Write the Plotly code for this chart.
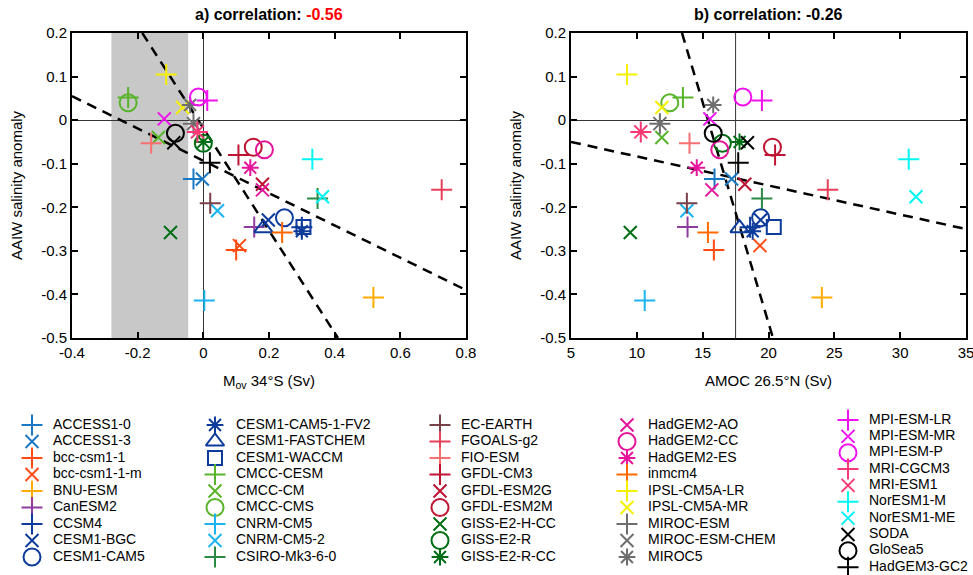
import plotly.graph_objects as go

# ---------------- data ----------------
models = ["ACCESS1-0", "ACCESS1-3", "bcc-csm1-1", "bcc-csm1-1-m", "BNU-ESM", "CanESM2", "CCSM4",
          "CESM1-BGC", "CESM1-CAM5", "CESM1-CAM5-1-FV2", "CESM1-FASTCHEM", "CESM1-WACCM",
          "CMCC-CESM", "CMCC-CM", "CMCC-CMS", "CNRM-CM5", "CNRM-CM5-2", "CSIRO-Mk3-6-0",
          "EC-EARTH", "FGOALS-g2", "FIO-ESM", "GFDL-CM3", "GFDL-ESM2G", "GFDL-ESM2M",
          "GISS-E2-H-CC", "GISS-E2-R", "GISS-E2-R-CC", "HadGEM2-AO", "HadGEM2-CC", "HadGEM2-ES",
          "inmcm4", "IPSL-CM5A-LR", "IPSL-CM5A-MR", "MIROC-ESM", "MIROC-ESM-CHEM", "MIROC5",
          "MPI-ESM-LR", "MPI-ESM-MR", "MPI-ESM-P", "MRI-CGCM3", "MRI-ESM1", "NorESM1-M",
          "NorESM1-ME", "SODA", "GloSea5", "HadGEM3-GC2"]

mov34s = [-0.030, -0.003, 0.100, 0.110, 0.518, 0.155, 0.300,
          0.198, 0.247, 0.300, 0.183, 0.305,
          -0.229, -0.137, -0.229, 0.003, 0.043, 0.348,
          0.021, 0.726, -0.159, 0.107, 0.180, 0.152,
          -0.100, 0.000, 0.000, 0.180, 0.186, 0.143,
          0.240, -0.113, -0.063, -0.030, -0.030, -0.040,
          0.012, -0.119, -0.015, -0.018, -0.018, 0.332,
          0.363, -0.090, -0.085, 0.020]

amoc265n = [15.9, 17.2, 15.85, 19.35, 24.05, 13.85, 18.6,
            19.4, 19.4, 18.8, 17.8, 20.4,
            13.5, 11.9, 12.5, 10.6, 13.8, 19.5,
            13.8, 24.5, 14.0, 20.5, 18.2, 20.3,
            9.5, 16.5, 17.8, 15.7, 16.3, 14.55,
            15.4, 9.25, 11.9, 11.75, 11.75, 15.8,
            19.5, 15.55, 18.05, 10.3, 10.3, 30.65,
            31.2, 18.4, 15.8, 17.7]

aaiw_sal = [-0.135, -0.135, -0.298, -0.288, -0.407, -0.245, -0.246,
            -0.229, -0.224, -0.255, -0.248, -0.245,
            0.052, -0.040, 0.040, -0.414, -0.208, -0.180,
            -0.191, -0.160, -0.053, -0.080, -0.147, -0.062,
            -0.258, -0.053, -0.050, -0.160, -0.068, -0.109,
            -0.258, 0.105, 0.029, -0.008, -0.008, 0.035,
            0.045, 0.003, 0.053, -0.027, -0.027, -0.090,
            -0.176, -0.052, -0.030, -0.098]

symbols = ["+", "x", "+", "x", "+", "+", "+",
           "x", "o", "*", "^", "s",
           "+", "x", "o", "+", "x", "+",
           "+", "+", "+", "+", "x", "o",
           "x", "o", "*", "x", "o", "*",
           "+", "+", "x", "+", "x", "*",
           "+", "x", "o", "+", "x", "+",
           "x", "x", "o", "+"]

colors = ["#1a78c2", "#1a78c2", "#ff4a10", "#ff4a10", "#ffab00", "#8e3c9e", "#0d3b9c",
          "#0d3b9c", "#0d3b9c", "#0d3b9c", "#0d3b9c", "#0d3b9c",
          "#58b42a", "#58b42a", "#58b42a", "#1ab4f0", "#1ab4f0", "#2a8a45",
          "#7a4048", "#e6405a", "#f87070", "#be1432", "#be1432", "#be1432",
          "#006e14", "#006e14", "#006e14", "#e6149a", "#e6149a", "#e6149a",
          "#ff6a00", "#f5f000", "#f5f000", "#6e6e6e", "#6e6e6e", "#6e6e6e",
          "#f010f0", "#f010f0", "#f010f0", "#f73873", "#f73873", "#00f5f5",
          "#00f5f5", "#000000", "#000000", "#000000"]

# fitted lines
fitA_mov_x = [-0.4, 0.8]
fitA_mov_y = [0.055, -0.39]
fitB_mov_x = [-0.186, 0.41]
fitB_mov_y = [0.2, -0.5]
fitA_amoc_x = [5, 35]
fitA_amoc_y = [-0.05, -0.25]
fitB_amoc_x = [13.43, 20.34]
fitB_amoc_y = [0.2, -0.5]

obs_mov_range = [-0.28, -0.046]
amoc_ref = 17.5

mov_ticks = [-0.4, -0.2, 0, 0.2, 0.4, 0.6, 0.8]
mov_ticklabels = ["-0.4", "-0.2", "0", "0.2", "0.4", "0.6", "0.8"]
amoc_ticks = [5, 10, 15, 20, 25, 30, 35]
amoc_ticklabels = ["5", "10", "15", "20", "25", "30", "35"]
y_ticks = [0.2, 0.1, 0, -0.1, -0.2, -0.3, -0.4, -0.5]
y_ticklabels = ["0.2", "0.1", "0", "-0.1", "-0.2", "-0.3", "-0.4", "-0.5"]

corr_a = "-0.56"
corr_b = "-0.26"

# ---------------- style ----------------
FONT = "Arial, Liberation Sans, Helvetica, sans-serif"
sym_map = {"+": ("cross-thin-open", 15), "x": ("x-thin-open", 13),
           "o": ("circle-open", 17), "*": ("asterisk-open", 14),
           "^": ("triangle-up-open", 16), "s": ("square-open", 14)}

fig = go.Figure()

def add_points(xs, xa, ya):
    for i, m in enumerate(models):
        sym, sz = sym_map[symbols[i]]
        fig.add_trace(go.Scatter(
            x=[xs[i]], y=[aaiw_sal[i]], mode="markers", name=m, showlegend=False,
            xaxis=xa, yaxis=ya,
            marker=dict(symbol=sym, size=sz, color=colors[i],
                        line=dict(color=colors[i], width=2))))

def add_line(xs, ys, xa, ya):
    fig.add_trace(go.Scatter(x=xs, y=ys, mode="lines", showlegend=False, hoverinfo="skip",
                             xaxis=xa, yaxis=ya,
                             line=dict(color="black", width=2.5, dash="10px,7px")))

add_line(fitA_mov_x, fitA_mov_y, "x", "y")
add_line(fitB_mov_x, fitB_mov_y, "x", "y")
add_line(fitA_amoc_x, fitA_amoc_y, "x2", "y2")
add_line(fitB_amoc_x, fitB_amoc_y, "x2", "y2")
add_points(mov34s, "x", "y")
add_points(amoc265n, "x2", "y2")

# ---------------- manual legend (5 columns) ----------------
col_start = [0, 9, 18, 27, 36, 46]
col_mx = [32, 215, 440, 627, 848]
col_y0 = [425, 425, 425, 425, 420]
col_dy = [16.5, 16.5, 16.5, 16.5, 16.35]
lx, ly = [], []
for c in range(5):
    for r, i in enumerate(range(col_start[c], col_start[c + 1])):
        lx.append(col_mx[c])
        ly.append(col_y0[c] + r * col_dy[c])
for i, m in enumerate(models):
    sym, sz = sym_map[symbols[i]]
    fig.add_trace(go.Scatter(x=[lx[i]], y=[ly[i]], mode="markers", showlegend=False,
                             hoverinfo="skip", xaxis="x3", yaxis="y3",
                             marker=dict(symbol=sym, size=sz, color=colors[i],
                                         line=dict(color=colors[i], width=2))))
fig.add_trace(go.Scatter(x=[v + 21 for v in lx], y=ly, mode="text", text=models,
                         textposition="middle right", showlegend=False, hoverinfo="skip",
                         xaxis="x3", yaxis="y3",
                         textfont=dict(family=FONT, size=14, color="black")))

# ---------------- layout ----------------
W, H = 973, 575
ybot, ytop = 1 - 338 / H, 1 - 33 / H
axis_common = dict(showline=True, linewidth=2, linecolor="black", mirror="ticks",
                   ticks="inside", ticklen=6, tickwidth=1.5, tickcolor="black",
                   showgrid=False, automargin=False, ticklabeloverflow="allow",
                   tickfont=dict(family=FONT, size=15, color="black"))
title_font = dict(family=FONT, size=15, color="black")

fig.update_layout(
    width=W, height=H, margin=dict(l=0, r=0, t=0, b=0, autoexpand=False),
    paper_bgcolor="white", plot_bgcolor="rgba(0,0,0,0)",
    showlegend=False,
    xaxis=dict(domain=[72 / W, 466 / W], range=[-0.4, 0.8], anchor="y",
               tickvals=mov_ticks, ticktext=mov_ticklabels,
               zeroline=True, zerolinecolor="#333333", zerolinewidth=1,
               title=dict(text="M<sub>ov</sub> 34°S (Sv)", standoff=15, font=title_font),
               **axis_common),
    yaxis=dict(domain=[ybot, ytop], range=[-0.5, 0.2], anchor="x",
               tickvals=y_ticks, ticktext=y_ticklabels,
               zeroline=True, zerolinecolor="#333333", zerolinewidth=1,
               title=dict(text="AAIW salinity anomaly", standoff=15, font=title_font),
               **axis_common),
    xaxis2=dict(domain=[571 / W, 966 / W], range=[5, 35], anchor="y2",
                tickvals=amoc_ticks, ticktext=amoc_ticklabels, zeroline=False,
                title=dict(text="AMOC 26.5°N (Sv)", standoff=15, font=title_font),
                **axis_common),
    yaxis2=dict(domain=[ybot, ytop], range=[-0.5, 0.2], anchor="x2",
                tickvals=y_ticks, ticktext=y_ticklabels,
                zeroline=True, zerolinecolor="#333333", zerolinewidth=1,
                title=dict(text="AAIW salinity anomaly", standoff=15, font=title_font),
                **axis_common),
    xaxis3=dict(domain=[0, 1], range=[0, W], visible=False, fixedrange=True, anchor="y3"),
    yaxis3=dict(domain=[0, 1], range=[H, 0], visible=False, fixedrange=True, anchor="x3"),
    shapes=[
        dict(type="rect", xref="x", yref="y domain", x0=obs_mov_range[0], x1=obs_mov_range[1],
             y0=0, y1=1, fillcolor="#c8c8c8", line=dict(width=0), layer="below"),
        dict(type="line", xref="x2", yref="y2 domain", x0=amoc_ref, x1=amoc_ref, y0=0, y1=1,
             line=dict(color="#333333", width=1), layer="below"),
    ],
    annotations=[
        dict(text="<b>a) correlation: <span style='color:red'>" + corr_a + "</span></b>",
             xref="x domain", yref="paper", x=0.5, y=1 - 15 / H, showarrow=False,
             xanchor="center", yanchor="middle", font=dict(family=FONT, size=16, color="black")),
        dict(text="<b>b) correlation: " + corr_b + "</b>",
             xref="x2 domain", yref="paper", x=0.5, y=1 - 15 / H, showarrow=False,
             xanchor="center", yanchor="middle", font=dict(family=FONT, size=16, color="black")),
    ],
)

fig.write_html("out.html", config={"displayModeBar": False},
               post_script="document.body.style.margin='0px';")
